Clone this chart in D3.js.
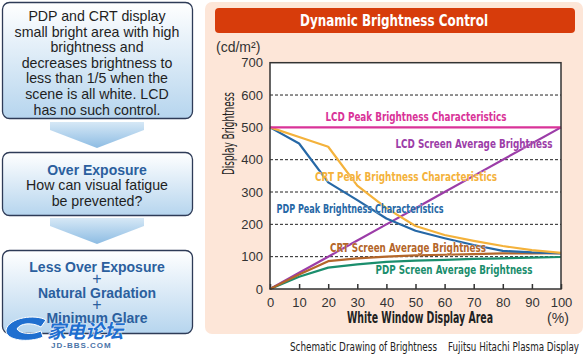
<!DOCTYPE html>
<html>
<head>
<meta charset="utf-8">
<script src="https://cdn.jsdelivr.net/npm/d3@7"></script>
<style>
  body { margin: 0; background: #fff; }
  svg { display: block; }
</style>
</head>
<body>
<div id="chart-area"></div>
<script>
// values
var area = [0, 10, 20, 30, 40, 50, 60, 70, 80, 90, 100];
var lcdPeak = [500, 500, 500, 500, 500, 500, 500, 500, 500, 500, 500];
var lcdAvg = [0, 50, 100, 150, 200, 250, 300, 350, 400, 450, 500];
var crtPeak = [500, 470, 440, 320, 250, 195, 167, 149, 133, 120, 112];
var pdpPeak = [500, 450, 330, 275, 218, 180, 157, 136, 118, 113, 110];
var crtAvg = [0, 45, 86, 95, 100, 104, 106, 108, 110, 110, 111];
var pdpAvg = [0, 38, 66, 76, 84, 88, 90, 93, 95, 97, 99];

var yTicks = [0, 100, 200, 300, 400, 500, 600, 700];
var xTicks = [0, 10, 20, 30, 40, 50, 60, 70, 80, 90, 100];
var gridValues = [100, 200, 300, 400, 600];

var boxText1 = ["PDP and CRT display", "small bright area with high", "brightness and", "decreases brightness to", "less than 1/5 when the", "scene is all white.  LCD", "has no such control."];
var boxText3 = ["Less Over Exposure", "+", "Natural Gradation", "+", "Minimum Glare"];

var narrow = "'Liberation Sans Narrow', 'DejaVu Sans Condensed', 'Liberation Sans', sans-serif";
var sans = "'Liberation Sans', Arial, sans-serif";

var svg = d3.select("#chart-area")
  .append("svg")
  .attr("width", 585)
  .attr("height", 354);

var defs = svg.append("defs");

var boxGrad = defs.append("linearGradient")
  .attr("id", "boxGrad")
  .attr("x1", 0).attr("y1", 0).attr("x2", 0).attr("y2", 1);
boxGrad.append("stop").attr("offset", "0%").attr("stop-color", "#ffffff");
boxGrad.append("stop").attr("offset", "100%").attr("stop-color", "#b6d5ee");

var arrowGrad = defs.append("linearGradient")
  .attr("id", "arrowGrad")
  .attr("x1", 0).attr("y1", 0).attr("x2", 0).attr("y2", 1);
arrowGrad.append("stop").attr("offset", "0%").attr("stop-color", "#d6e8f6");
arrowGrad.append("stop").attr("offset", "100%").attr("stop-color", "#8dbce3");

// ---------- left column ----------
var left = svg.append("g");

function box(y0, h) {
  left.append("rect")
    .attr("x", 2.5)
    .attr("y", y0)
    .attr("width", 190)
    .attr("height", h)
    .attr("rx", 7)
    .attr("fill", "url(#boxGrad)")
    .attr("stroke", "#2e3b57")
    .attr("stroke-width", 1.3);
}

function arrow(y0) {
  left.append("path")
    .attr("d", "M50," + y0 + " L144," + y0 + " L144," + (y0 + 8) + " L97," + (y0 + 26) + " L50," + (y0 + 8) + " Z")
    .attr("fill", "url(#arrowGrad)");
}

box(2.5, 116);
arrow(122);
box(152.5, 63);
arrow(218);
box(250.5, 83);

left.selectAll(".t1")
  .data(boxText1)
  .enter().append("text")
  .attr("class", "t1")
  .attr("x", 97)
  .attr("y", (d, i) => 21 + i * 15.6)
  .attr("text-anchor", "middle")
  .attr("font-family", sans)
  .attr("font-size", "14.2px")
  .attr("fill", "#1f1f1f")
  .text(d => d);

left.append("text")
  .attr("x", 97).attr("y", 175)
  .attr("text-anchor", "middle")
  .attr("font-family", sans)
  .attr("font-size", "14px")
  .attr("font-weight", "bold")
  .attr("fill", "#2b5f9e")
  .text("Over Exposure");

left.selectAll(".t2")
  .data(["How can visual fatigue", "be prevented?"])
  .enter().append("text")
  .attr("class", "t2")
  .attr("x", 97)
  .attr("y", (d, i) => 190 + i * 16)
  .attr("text-anchor", "middle")
  .attr("font-family", sans)
  .attr("font-size", "14.2px")
  .attr("fill", "#1f1f1f")
  .text(d => d);

var t3Y = [272, 284, 298, 310, 323];
left.selectAll(".t3")
  .data(boxText3)
  .enter().append("text")
  .attr("class", "t3")
  .attr("x", 97)
  .attr("y", (d, i) => t3Y[i])
  .attr("text-anchor", "middle")
  .attr("font-family", sans)
  .attr("font-size", (d) => d === "+" ? "16px" : "14px")
  .attr("font-weight", (d) => d === "+" ? "normal" : "bold")
  .attr("fill", "#2b5f9e")
  .text(d => d);

// watermark
var wm = svg.append("g");
wm.append("path")
  .attr("d", "M6,330 C9,317 36,314 46,320 L41,327 C32,322 20,323 17,329 C20,334 32,335 41,331 L43,337 C30,343 5,341 6,330 Z")
  .attr("fill", "#1f6fd0")
  .attr("stroke", "#fff")
  .attr("stroke-width", 1);
wm.append("text")
  .attr("x", 47).attr("y", 338)
  .attr("font-family", "'Noto Sans CJK SC', sans-serif")
  .attr("font-size", "19px")
  .attr("font-weight", "bold")
  .attr("font-style", "italic")
  .attr("fill", "#1f6fd0")
  .attr("stroke", "#ffffff")
  .attr("stroke-width", 0.8)
  .attr("paint-order", "stroke")
  .text("家电论坛");
wm.append("text")
  .attr("x", 51).attr("y", 348)
  .attr("font-family", sans)
  .attr("font-size", "8px")
  .attr("font-weight", "bold")
  .attr("letter-spacing", "1px")
  .attr("fill", "#4a74a8")
  .text("JD-BBS.COM");

// ---------- right panel ----------
svg.append("rect")
  .attr("x", 205).attr("y", 2)
  .attr("width", 378).attr("height", 332)
  .attr("rx", 7)
  .attr("fill", "#fde6d8");

svg.append("rect")
  .attr("x", 215).attr("y", 8)
  .attr("width", 360).attr("height", 25)
  .attr("rx", 4)
  .attr("fill", "#d73c0b");

svg.append("text")
  .attr("x", 300).attr("y", 26)
  .attr("textLength", 188)
  .attr("lengthAdjust", "spacingAndGlyphs")
  .attr("font-family", narrow)
  .attr("font-size", "16px")
  .attr("font-weight", "bold")
  .attr("fill", "#fff")
  .text("Dynamic Brightness Control");

svg.append("text")
  .attr("x", 216).attr("y", 52)
  .attr("font-family", sans)
  .attr("font-size", "14px")
  .attr("fill", "#333")
  .text("(cd/m²)");

var x = d3.scaleLinear()
  .domain([0, 100])
  .range([270, 561]);

var y = d3.scaleLinear()
  .domain([0, 700])
  .range([289, 62.7]);

var g = svg.append("g");

g.append("rect")
  .attr("x", x(0)).attr("y", y(700))
  .attr("width", x(100) - x(0))
  .attr("height", y(0) - y(700))
  .attr("fill", "#fff");

g.selectAll(".grid")
  .data(gridValues)
  .enter().append("line")
  .attr("class", "grid")
  .attr("x1", x(0)).attr("x2", x(100))
  .attr("y1", d => y(d)).attr("y2", d => y(d))
  .attr("stroke", "#222")
  .attr("stroke-width", 1)
  .attr("stroke-dasharray", "3,2");

// x axis with ticks pointing up into the plot
var xAxisCall = d3.axisBottom(x)
  .tickValues(xTicks)
  .tickSizeInner(-5)
  .tickSizeOuter(0)
  .tickPadding(9);
var xAxisGroup = g.append("g")
  .attr("transform", "translate(0," + y(0) + ")")
  .call(xAxisCall);
xAxisGroup.select(".domain").remove();
xAxisGroup.selectAll(".tick line").attr("stroke", "#333").attr("stroke-width", 1.5);
xAxisGroup.selectAll("text")
  .attr("font-family", sans)
  .attr("font-size", "13px")
  .attr("fill", "#333");

var yAxisCall = d3.axisLeft(y)
  .tickValues(yTicks)
  .tickSize(0)
  .tickPadding(7);
var yAxisGroup = g.append("g")
  .attr("transform", "translate(" + x(0) + ",0)")
  .call(yAxisCall);
yAxisGroup.select(".domain").remove();
yAxisGroup.selectAll("text")
  .attr("font-family", sans)
  .attr("font-size", "13px")
  .attr("fill", "#333");

// series
var series = [
  { name: "LCD Screen Average Brightness", values: lcdAvg, color: "#9c3da8" },
  { name: "PDP Screen Average Brightness", values: pdpAvg, color: "#1b8e6d" },
  { name: "CRT Screen Average Brightness", values: crtAvg, color: "#b4662a" },
  { name: "PDP Peak Brightness Characteristics", values: pdpPeak, color: "#2668a6" },
  { name: "CRT Peak Brightness Characteristics", values: crtPeak, color: "#f4b23b" },
  { name: "LCD Peak Brightness Characteristics", values: lcdPeak, color: "#d93398" }
];

var line = d3.line()
  .x((d, i) => x(area[i]))
  .y(d => y(d));

series.forEach((s) => {
  g.append("path")
    .datum(s.values)
    .attr("fill", "none")
    .attr("stroke", s.color)
    .attr("stroke-width", 2.2)
    .attr("stroke-linejoin", "round")
    .attr("d", line);
});

// frame on top
g.append("rect")
  .attr("x", x(0)).attr("y", y(700))
  .attr("width", x(100) - x(0))
  .attr("height", y(0) - y(700))
  .attr("fill", "none")
  .attr("stroke", "#333")
  .attr("stroke-width", 1.5);

// series labels
var labels = [
  { text: "LCD Peak Brightness Characteristics", color: "#d93398", cx: 416, cy: 121, w: 181 },
  { text: "LCD Screen Average Brightness", color: "#9c3da8", cx: 474, cy: 148, w: 157 },
  { text: "CRT Peak Brightness Characteristics", color: "#f4b23b", cx: 406, cy: 181, w: 182 },
  { text: "PDP Peak Brightness Characteristics", color: "#2668a6", cx: 360, cy: 213, w: 167 },
  { text: "CRT Screen Average Brightness", color: "#b4662a", cx: 408, cy: 252, w: 156 },
  { text: "PDP Screen Average Brightness", color: "#1b8e6d", cx: 454, cy: 274, w: 157 }
];

g.selectAll(".slabel")
  .data(labels)
  .enter().append("text")
  .attr("class", "slabel")
  .attr("x", d => d.cx - d.w / 2)
  .attr("y", d => d.cy)
  .attr("textLength", d => d.w)
  .attr("lengthAdjust", "spacingAndGlyphs")
  .attr("font-family", narrow)
  .attr("font-size", "12.5px")
  .attr("font-weight", "bold")
  .attr("fill", d => d.color)
  .attr("stroke", "#fff")
  .attr("stroke-width", 0.4)
  .attr("paint-order", "stroke")
  .text(d => d.text);

// axis titles
svg.append("text")
  .attr("x", 347).attr("y", 323)
  .attr("textLength", 146)
  .attr("lengthAdjust", "spacingAndGlyphs")
  .attr("font-family", narrow)
  .attr("font-size", "15px")
  .attr("font-weight", "bold")
  .attr("fill", "#222")
  .text("White Window Display Area");

svg.append("text")
  .attr("x", 558).attr("y", 323)
  .attr("text-anchor", "middle")
  .attr("font-family", sans)
  .attr("font-size", "14px")
  .attr("fill", "#333")
  .text("(%)");

svg.append("text")
  .attr("transform", "translate(234,175) rotate(-90)")
  .attr("textLength", 83)
  .attr("lengthAdjust", "spacingAndGlyphs")
  .attr("font-family", narrow)
  .attr("font-size", "15px")
  .attr("fill", "#222")
  .text("Display Brightness");

// footer
svg.append("text")
  .attr("x", 290).attr("y", 351)
  .attr("textLength", 147)
  .attr("lengthAdjust", "spacingAndGlyphs")
  .attr("font-family", narrow)
  .attr("font-size", "12px")
  .attr("fill", "#222")
  .text("Schematic Drawing of Brightness");

svg.append("text")
  .attr("x", 448).attr("y", 351)
  .attr("textLength", 131)
  .attr("lengthAdjust", "spacingAndGlyphs")
  .attr("font-family", narrow)
  .attr("font-size", "12px")
  .attr("fill", "#222")
  .text("Fujitsu Hitachi Plasma Display");
</script>
</body>
</html>
